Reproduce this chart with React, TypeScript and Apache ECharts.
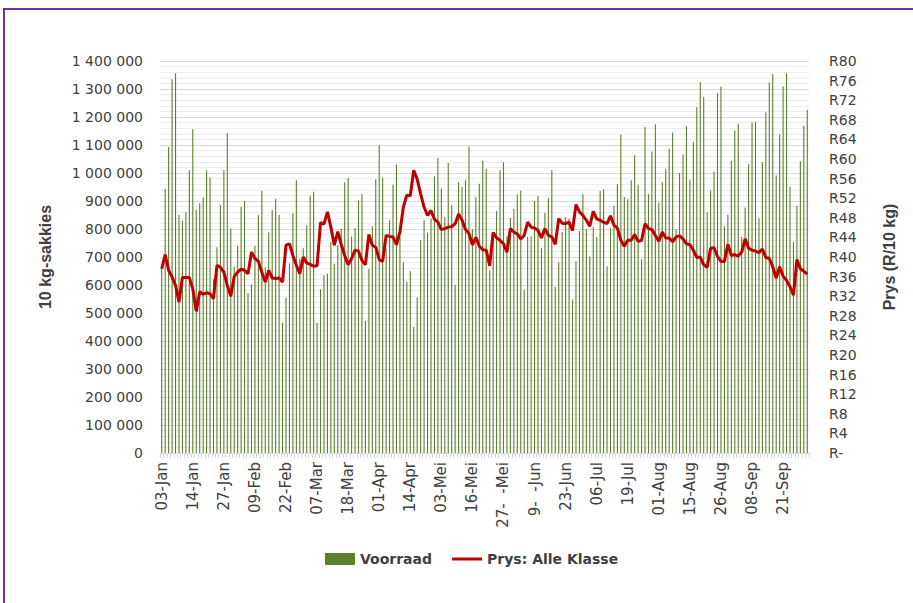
import React, { useEffect, useRef } from "react";
import * as echarts from "echarts";

// Trading days (2022), per month
const jan = [3,4,5,6,7,10,11,12,13,14,17,18,19,20,21,24,25,26,27,28,31];
const feb = [1,2,3,4,7,8,9,10,11,14,15,16,17,18,21,22,23,24,25,28];
const mar = [1,2,3,4,7,8,9,10,11,14,15,16,17,18,22,23,24,25,28,29,30,31];
const apr = [1,4,5,6,7,8,11,12,13,14,19,20,21,22,25,26,28,29];
const mei = [3,4,5,6,9,10,11,12,13,16,17,18,19,20,23,24,25,26,27,30,31];
const jun = [1,2,3,6,7,8,9,10,13,14,15,17,20,21,22,23,24,27,28,29,30];
const jul = [1,4,5,6,7,8,11,12,13,14,15,18,19,20,21,22,25,26,27,28,29];
const aug = [1,2,3,4,5,8,10,11,12,15,16,17,18,19,22,23,24,25,26,29,30,31];
const sep = [1,2,5,6,7,8,9,12,13,14,15,16,19,20,21,22,23,26,27,28,29,30];
const monthNames = ["Jan", "Feb", "Mar", "Apr", "Mei", "Jun", "Jul", "Aug", "Sep"];

// Tick labels shown on the x axis (every 9th trading day)
const tickLabels = [
  "03-Jan", "14-Jan", "27-Jan", "09-Feb", "22-Feb", "07-Mar", "18-Mar",
  "01-Apr", "14-Apr", "03-Mei", "16-Mei", "27-  -Mei", "9-  -Jun", "23-Jun",
  "06-Jul", "19-Jul", "01-Aug", "15-Aug", "26-Aug", "08-Sep", "21-Sep",
];

// Voorraad (10 kg-sakkies)
const voorraad = [
  660000, 944000, 1093000, 1335000, 1356000, 850000, 829000, 861000, 1010000, 1157000,
  868000, 892000, 913000, 1010000, 985000, 620000, 735000, 886000, 1010000, 1143000,
  802000, 665000, 740000, 879000, 900000, 571000, 602000, 740000, 849000, 936000,
  663000, 788000, 868000, 908000, 851000, 465000, 555000, 677000, 856000, 974000,
  694000, 731000, 813000, 919000, 933000, 465000, 585000, 635000, 640000, 754000,
  676000, 742000, 800000, 967000, 982000, 773000, 804000, 902000, 926000, 471000,
  658000, 810000, 977000, 1099000, 983000, 730000, 831000, 958000, 1030000, 771000,
  680000, 611000, 649000, 450000, 556000, 760000, 831000, 787000, 837000, 988000,
  1054000, 945000, 842000, 1036000, 885000, 601000, 967000, 950000, 974000, 1095000,
  799000, 914000, 962000, 1044000, 1015000, 652000, 777000, 864000, 1010000, 1038000,
  774000, 840000, 871000, 923000, 937000, 583000, 771000, 774000, 900000, 918000,
  733000, 858000, 910000, 1010000, 593000, 681000, 789000, 842000, 837000, 548000,
  685000, 793000, 924000, 800000, 702000, 807000, 771000, 936000, 942000, 667000,
  805000, 883000, 960000, 1137000, 914000, 906000, 974000, 1063000, 958000, 692000,
  1164000, 924000, 1077000, 1174000, 895000, 967000, 1013000, 1087000, 1145000, 799000,
  1000000, 1067000, 1167000, 976000, 1112000, 1235000, 1325000, 1271000, 860000, 938000,
  1005000, 1285000, 1308000, 810000, 851000, 1043000, 1152000, 1176000, 771000, 877000,
  1031000, 1180000, 1183000, 838000, 1038000, 1217000, 1323000, 1354000, 992000, 1138000,
  1310000, 1356000, 951000, 754000, 883000, 1042000, 1170000, 1226000,
];

// Prys: Alle Klasse (R/10 kg)
const prys = [
  37.6, 40.5, 37.3, 35.9, 34.2, 30.8, 35.8, 35.8, 35.8, 33.5,
  28.9, 32.9, 32.4, 32.7, 32.5, 31.5, 38.3, 37.9, 36.9, 34.2,
  32.0, 36.0, 36.9, 37.5, 37.3, 36.6, 41.0, 39.7, 39.1, 36.9,
  34.9, 37.3, 35.7, 35.6, 35.7, 34.9, 42.4, 42.7, 40.3, 38.3,
  36.6, 40.0, 38.8, 38.5, 38.1, 38.2, 47.0, 46.7, 49.2, 46.1,
  42.4, 45.2, 42.6, 40.3, 38.4, 39.7, 41.4, 41.2, 39.3, 38.4,
  44.6, 42.4, 42.0, 39.5, 39.1, 44.4, 44.2, 44.1, 42.5, 45.1,
  50.2, 52.6, 52.5, 57.7, 55.9, 52.9, 50.2, 48.5, 49.5, 47.7,
  47.1, 45.6, 45.8, 46.1, 46.2, 46.8, 48.8, 47.5, 45.6, 44.8,
  42.5, 44.0, 42.2, 41.5, 41.4, 38.2, 45.0, 43.9, 43.4, 42.7,
  41.0, 45.8, 45.1, 44.7, 43.7, 44.4, 47.1, 46.1, 45.9, 45.4,
  43.9, 45.8, 44.4, 44.1, 42.6, 47.8, 46.9, 46.8, 47.1, 45.4,
  50.7, 49.2, 48.5, 47.5, 46.3, 49.3, 47.8, 47.5, 47.1, 46.8,
  48.4, 46.5, 45.9, 43.4, 42.2, 43.4, 43.4, 44.6, 43.2, 43.4,
  46.8, 45.8, 45.6, 44.4, 43.2, 45.1, 43.9, 43.9, 43.1, 44.1,
  44.3, 43.7, 42.7, 42.5, 41.4, 39.9, 40.0, 38.4, 37.9, 41.8,
  41.9, 40.1, 39.1, 39.1, 42.6, 40.3, 40.5, 40.2, 41.0, 43.7,
  41.8, 41.4, 41.2, 40.9, 41.6, 39.9, 39.7, 38.0, 35.7, 38.0,
  36.1, 35.2, 33.9, 32.2, 39.5, 37.6, 37.1, 36.5,
];

const months = [jan, feb, mar, apr, mei, jun, jul, aug, sep];
const categories: string[] = [];
months.forEach((days, m) => {
  days.forEach((d) => categories.push(String(d).padStart(2, "0") + "-" + monthNames[m]));
});

const TXT = "#404040";
// thin horizontal line icon; tiny corner squares keep the 30x12 bounding box
const LINE_ICON = "path://M0,0h0.01v0.01h-0.01z M0,4.5h30v3h-30z M29.99,11.99h0.01v0.01h-0.01z";

export default function App() {
  const ref = useRef<HTMLDivElement>(null);
  useEffect(() => {
    if (!ref.current) return;
    const chart = echarts.init(ref.current, undefined, { renderer: "svg" });
    chart.setOption({
      animation: false,
      backgroundColor: "#ffffff",
      graphic: [
        {
          type: "rect",
          shape: { x: 4, y: 9, width: 1000, height: 1000 },
          style: { fill: "none", stroke: "#7030A0", lineWidth: 2 },
          silent: true,
        },
      ],
      grid: { left: 160, right: 104, top: 61, bottom: 150, outerBoundsMode: "none" },
      legend: {
        left: 320,
        top: 547,
        itemWidth: 30,
        itemHeight: 12,
        itemGap: 20,
        textStyle: { fontFamily: "DejaVu Sans", fontWeight: "bold", fontSize: 14, color: TXT },
        data: [
          { name: "Voorraad", icon: "rect" },
          { name: "Prys: Alle Klasse", icon: LINE_ICON },
        ],
      },
      xAxis: {
        type: "category",
        data: categories,
        axisLine: { lineStyle: { color: "#d9d9d9" } },
        axisTick: { show: true, interval: 0, length: 5, lineStyle: { color: "#d9d9d9" } },
        axisLabel: {
          interval: 8,
          rotate: 90,
          margin: 9,
          fontFamily: "DejaVu Sans",
          fontSize: 15,
          color: TXT,
          formatter: (v: string, i: number) => (i % 9 === 0 && tickLabels[i / 9] ? tickLabels[i / 9] : v),
        },
      },
      yAxis: [
        {
          type: "value",
          min: 0,
          max: 1400000,
          interval: 100000,
          name: "10 kg-sakkies",
          nameLocation: "middle",
          nameRotate: 90,
          nameGap: 107,
          nameTextStyle: { fontFamily: "Liberation Sans", fontWeight: "bold", fontSize: 16, color: TXT },
          axisLine: { show: false },
          axisTick: { show: false },
          axisLabel: {
            margin: 17,
            fontFamily: "DejaVu Sans",
            fontSize: 14,
            color: TXT,
            formatter: (v: number) => String(v).replace(/\B(?=(\d{3})+(?!\d))/g, " "),
          },
          splitLine: { show: true, lineStyle: { color: "#d9d9d9", width: 1 } },
          minorTick: { show: false, splitNumber: 5 },
          minorSplitLine: { show: true, lineStyle: { color: "#ededed", width: 1 } },
        },
        {
          type: "value",
          min: 0,
          max: 80,
          interval: 4,
          name: "Prys (R/10 kg)",
          nameLocation: "middle",
          nameRotate: 90,
          nameGap: 72,
          nameTextStyle: { fontFamily: "Liberation Sans", fontWeight: "bold", fontSize: 16, color: TXT },
          axisLine: { show: false },
          axisTick: { show: false },
          splitLine: { show: false },
          axisLabel: {
            margin: 20,
            fontFamily: "DejaVu Sans",
            fontSize: 14,
            color: TXT,
            formatter: (v: number) => (v === 0 ? "R-" : "R" + v),
          },
        },
      ],
      series: [
        {
          name: "Voorraad",
          type: "bar",
          data: voorraad,
          yAxisIndex: 0,
          barWidth: 1.1,
          itemStyle: { color: "#5B7F2B" },
        },
        {
          name: "Prys: Alle Klasse",
          type: "line",
          data: prys,
          yAxisIndex: 1,
          symbol: "none",
          showSymbol: false,
          lineStyle: { color: "#C00000", width: 3 },
          itemStyle: { color: "#C00000" },
        },
      ],
    });
    return () => chart.dispose();
  }, []);
  return (
    <div
      ref={ref}
      style={{ position: "fixed", left: 0, top: 0, width: 913, height: 603, background: "#fff" }}
    />
  );
}
